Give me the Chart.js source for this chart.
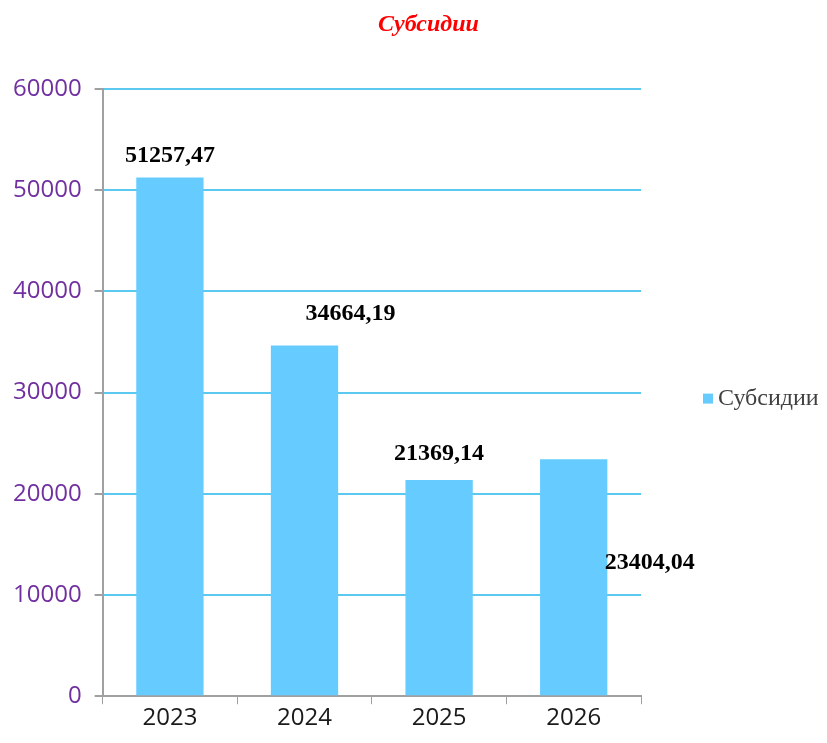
<!DOCTYPE html>
<html>
<head>
<meta charset="utf-8">
<script src="https://cdn.jsdelivr.net/npm/chart.js@4/dist/chart.umd.min.js"></script>
<style>
html,body{margin:0;padding:0;background:#fff;}
#wrap{width:827px;height:743px;position:relative;}
</style>
</head>
<body>
<div id="wrap"><canvas id="c"></canvas></div>
<script>
const categories = ["2023", "2024", "2025", "2026"];
const subsidies = [51257.47, 34664.19, 21369.14, 23404.04];
const valueLabels = ["51257,47", "34664,19", "21369,14", "23404,04"];
const seriesName = "Субсидии";
const chartTitle = "Субсидии";
const yTicks = [0, 10000, 20000, 30000, 40000, 50000, 60000];

// label placement offsets (style only): dx from bar center, dy from bar top
const labelOffsets = [[0, -22], [46, -32], [0, -26], [76, 103]];

const labelPlugin = {
  id: 'valLabels',
  afterDatasetsDraw(chart) {
    const ctx = chart.ctx;
    const meta = chart.getDatasetMeta(0);
    ctx.save();
    ctx.font = 'bold 24px "Liberation Serif", "Times New Roman", serif';
    ctx.fillStyle = '#000';
    ctx.textAlign = 'center';
    ctx.textBaseline = 'middle';
    meta.data.forEach((bar, i) => {
      const o = labelOffsets[i];
      ctx.fillText(valueLabels[i], bar.x + o[0], bar.y + o[1]);
    });
    ctx.restore();
  }
};

const decorPlugin = {
  id: 'decor',
  afterDraw(chart) {
    const ctx = chart.ctx;
    const area = chart.chartArea;
    ctx.save();
    // title
    ctx.font = 'italic bold 24px "Liberation Serif", "Times New Roman", serif';
    ctx.fillStyle = '#FF0000';
    ctx.textAlign = 'center';
    ctx.textBaseline = 'middle';
    ctx.fillText(chartTitle, chart.width / 2 + 15, 25);
    // legend
    const cy = (area.top + area.bottom) / 2 + 6;
    const x0 = area.right + 62;
    ctx.fillStyle = chart.data.datasets[0].backgroundColor;
    ctx.fillRect(x0, cy - 5, 10, 10);
    ctx.font = '24px "Liberation Serif", "Times New Roman", serif';
    ctx.fillStyle = '#404040';
    ctx.textAlign = 'left';
    ctx.fillText(chart.data.datasets[0].label, x0 + 15, cy);
    ctx.restore();
  }
};

new Chart(document.getElementById('c'), {
  type: 'bar',
  data: {
    labels: categories,
    datasets: [{
      label: seriesName,
      data: subsidies,
      backgroundColor: '#66CCFF',
      borderWidth: 0,
      categoryPercentage: 1.0,
      barPercentage: 0.5
    }]
  },
  options: {
    responsive: true,
    maintainAspectRatio: false,
    animation: false,
    layout: { padding: { top: 89, left: 0, right: 186, bottom: 10 } },
    plugins: {
      title: { display: false },
      legend: { display: false },
      tooltip: { enabled: false }
    },
    scales: {
      x: {
        offset: true,
        grid: {
          offset: true,
          drawOnChartArea: false,
          drawTicks: true,
          tickLength: 8,
          tickColor: '#A0A0A0',
          color: '#A0A0A0'
        },
        border: { color: '#A0A0A0', width: 2 },
        ticks: {
          color: '#1a1a1a',
          padding: 0,
          font: { family: '"Open Sans", "Liberation Sans", sans-serif', size: 24 }
        }
      },
      y: {
        min: 0,
        max: 60000,
        afterBuildTicks(axis) { axis.ticks = yTicks.map(v => ({ value: v })); },
        grid: {
          color: '#5BC8F0',
          lineWidth: 2,
          drawTicks: true,
          tickLength: 8,
          tickColor: '#A0A0A0'
        },
        border: { color: '#A0A0A0', width: 2 },
        ticks: {
          color: '#7030A0',
          padding: 13,
          font: { family: '"Open Sans", "Liberation Sans", sans-serif', size: 24 },
          callback: v => String(v)
        }
      }
    }
  },
  plugins: [labelPlugin, decorPlugin]
});
</script>
</body>
</html>
